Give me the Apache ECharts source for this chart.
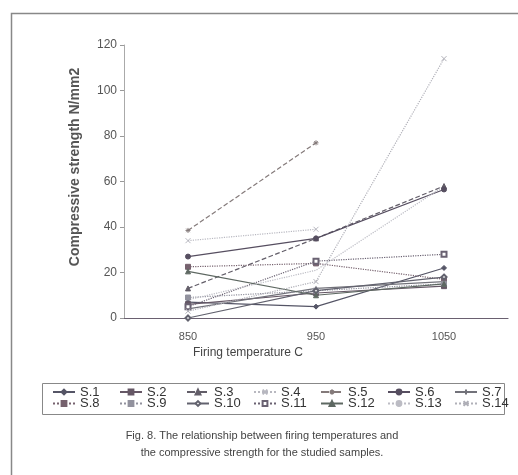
<!DOCTYPE html>
<html>
<head>
<meta charset="utf-8">
<script src="https://cdn.jsdelivr.net/npm/echarts@6/dist/echarts.min.js"></script>
<style>
  html, body { margin: 0; padding: 0; background: #fff; }
  #chart { width: 518px; height: 475px; }
</style>
</head>
<body>
<div id="chart"></div>
<script>
// firing temperature categories
const temps = ['850', '950', '1050'];
const yTicks = [0, 20, 40, 60, 80, 100, 120];

// compressive strength (N/mm2) per sample
const s1 = [7, 5, 22];
const s2 = [6, 11, 14];
const s3 = [13, 35, 58];
const s4 = [34, 39, null];
const s5 = [38.5, 77, null];
const s6 = [27, 35, 56.5];
const s7 = [4, 13, 16];
const s8 = [22.5, 24, 17];
const s9 = [9, 12, 15];
const s10 = [0, 12, 18];
const s11 = [5, 25, 28];
const s12 = [20.5, 10, 15];
const s13 = [8, 21, 58];
const s14 = [3, 16, 114];

const names = ['S.1', 'S.2', 'S.3', 'S.4', 'S.5', 'S.6', 'S.7',
               'S.8', 'S.9', 'S.10', 'S.11', 'S.12', 'S.13', 'S.14'];
const values = [s1, s2, s3, s4, s5, s6, s7, s8, s9, s10, s11, s12, s13, s14];

const xMark = 'path://M0,0L10,10M10,0L0,10';
const starMark = 'path://M5,0L5,10M0,5L10,5M1.5,1.5L8.5,8.5M8.5,1.5L1.5,8.5';
const plusMark = 'path://M5,0L5,10M0,5L10,5';
const dashMark = 'path://M0,4L10,4L10,6L0,6Z';

const styles = [
  { color: '#555566', type: 'solid',  symbol: 'diamond' },
  { color: '#665866', type: 'solid',  symbol: 'rect' },
  { color: '#625d68', type: 'dashed', symbol: 'triangle' },
  { color: '#b8b8c0', type: 'dotted', symbol: xMark },
  { color: '#847a7a', type: 'dashed', symbol: starMark },
  { color: '#564e60', type: 'solid',  symbol: 'circle' },
  { color: '#72727a', type: 'solid',  symbol: plusMark },
  { color: '#76626e', type: 'dotted', symbol: dashMark },
  { color: '#92929e', type: 'dotted', symbol: dashMark },
  { color: '#62626e', type: 'solid',  symbol: 'emptyDiamond' },
  { color: '#6a6272', type: 'dotted', symbol: 'emptyRect' },
  { color: '#5e6862', type: 'solid',  symbol: 'triangle' },
  { color: '#bcbcc4', type: 'dotted', symbol: 'none' },
  { color: '#b0b0b8', type: 'dotted', symbol: xMark }
];

const font = 'Liberation Sans, Arial, sans-serif';

// one legend per row so the columns line up like the original
const legendRow = (data, top) => ({
  left: 42,
  top: top,
  width: 470,
  padding: [0, 0, 0, 10],
  itemGap: 0,
  itemWidth: 22,
  itemHeight: 6,
  data: data,
  formatter: '{a|{name}}',
  textStyle: {
    fontFamily: font, fontSize: 13, color: '#333',
    rich: { a: { width: 39, lineHeight: 12, fontSize: 13, color: '#333', fontFamily: font } }
  }
});

const chart = echarts.init(document.getElementById('chart'), null, { renderer: 'canvas' });

chart.setOption({
  backgroundColor: '#fff',
  animation: false,
  textStyle: { fontFamily: font },
  grid: { left: 124, right: 10, top: 45, bottom: 157 },
  xAxis: {
    type: 'category',
    data: temps,
    boundaryGap: true,
    axisLine: { lineStyle: { color: '#6a6070', width: 1.2 } },
    axisTick: { length: 4, lineStyle: { color: '#888' } },
    axisLabel: { color: '#555', fontSize: 11, margin: 13 },
    splitLine: { show: false }
  },
  yAxis: {
    type: 'value',
    min: 0,
    max: 120,
    interval: 20,
    axisLine: { show: true, lineStyle: { color: '#aaa' } },
    axisTick: { show: true, length: 4, lineStyle: { color: '#999' } },
    axisLabel: {
      color: '#555', fontSize: 12, margin: 7,
      formatter: v => (yTicks.includes(v) ? String(v) : '')
    },
    splitLine: { show: false }
  },
  legend: [
    legendRow(names.slice(0, 7), 385.5),
    legendRow(names.slice(7), 397)
  ],
  graphic: [
    {
      type: 'rect', silent: true,
      shape: { x: 11.5, y: 13.5, width: 520, height: 480 },
      style: { fill: 'none', stroke: '#888', lineWidth: 1.5 }
    },
    {
      type: 'rect', silent: true,
      shape: { x: 42.5, y: 383.5, width: 462, height: 31 },
      style: { fill: 'none', stroke: '#888', lineWidth: 1 }
    },
    {
      type: 'text', x: 75, y: 167, rotation: Math.PI / 2,
      style: {
        text: 'Compressive strength N/mm2', fontFamily: font, fontSize: 14,
        fontWeight: 'bold', fill: '#555', textAlign: 'center', textVerticalAlign: 'middle'
      }
    },
    {
      type: 'text', x: 248, y: 353,
      style: {
        text: 'Firing temperature C', fontFamily: font, fontSize: 12,
        fill: '#444', textAlign: 'center', textVerticalAlign: 'middle'
      }
    },
    {
      type: 'text', x: 262, y: 436,
      style: {
        text: 'Fig. 8. The relationship between firing temperatures and',
        fontFamily: font, fontSize: 11, fill: '#444', textAlign: 'center', textVerticalAlign: 'middle'
      }
    },
    {
      type: 'text', x: 262, y: 453,
      style: {
        text: 'the compressive strength for the studied samples.',
        fontFamily: font, fontSize: 11, fill: '#444', textAlign: 'center', textVerticalAlign: 'middle'
      }
    }
  ],
  series: names.map((n, i) => ({
    name: n,
    type: 'line',
    data: values[i],
    symbol: styles[i].symbol,
    symbolSize: 5,
    showSymbol: styles[i].symbol !== 'none',
    connectNulls: false,
    lineStyle: { color: styles[i].color, type: styles[i].type, width: 1.2 },
    itemStyle: { color: styles[i].color, borderColor: styles[i].color, borderWidth: 1 }
  }))
});
</script>
</body>
</html>
